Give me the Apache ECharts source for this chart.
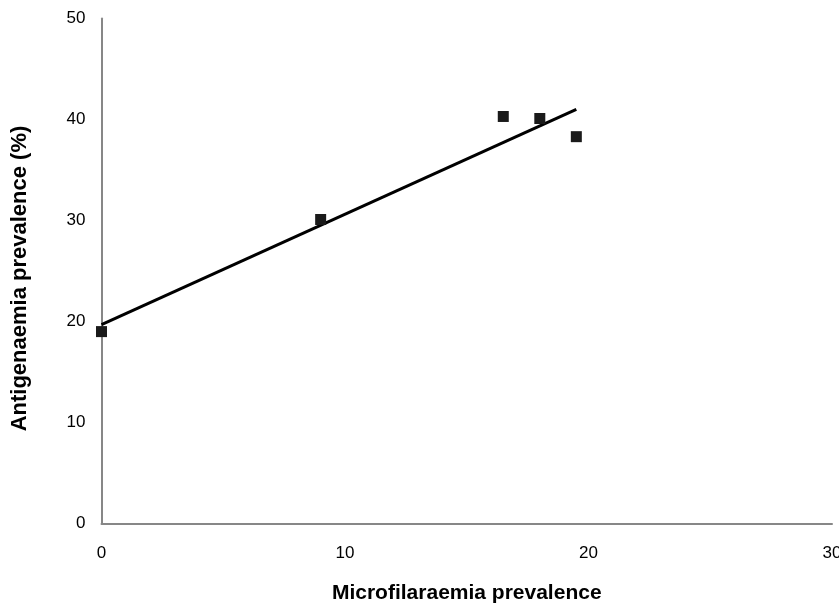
<!DOCTYPE html>
<html>
<head>
<meta charset="utf-8">
<script src="https://cdn.jsdelivr.net/npm/echarts@6/dist/echarts.min.js"></script>
<style>
  html, body { margin: 0; padding: 0; background: #fff; }
  #chart { width: 839px; height: 607px; }
</style>
</head>
<body>
<div id="chart"></div>
<script>
// Prevalence by community (%)
const microfilaraemia = [0, 9, 16.5, 18, 19.5];
const antigenaemia = [19.0, 30.1, 40.3, 40.1, 38.3];

// Linear trend line endpoints
const trendX = [0, 19.5];
const trendY = [19.7, 41.0];

const xTicks = [0, 10, 20, 30];
const yTicks = [0, 10, 20, 30, 40, 50];

const xTitle = 'Microfilaraemia prevalence';
const yTitle = 'Antigenaemia prevalence (%)';

const font = '"Liberation Sans", Arial, sans-serif';

const points = microfilaraemia.map((x, i) => [x, antigenaemia[i]]);
const trend = trendX.map((x, i) => [x, trendY[i]]);

const chart = echarts.init(document.getElementById('chart'), null, { renderer: 'canvas' });
chart.setOption({
  animation: false,
  backgroundColor: '#ffffff',
  grid: { left: 101.5, right: 7, top: 18.5, bottom: 83.5, outerBoundsMode: 'none', containLabel: false },
  graphic: [
    {
      type: 'text',
      x: 20,
      y: 278.5,
      rotation: Math.PI / 2,
      style: {
        text: yTitle,
        fontFamily: font,
        fontSize: 22,
        fontWeight: 'bold',
        fill: '#000',
        align: 'center',
        verticalAlign: 'middle'
      }
    }
  ],
  xAxis: {
    type: 'value',
    min: xTicks[0],
    max: xTicks[xTicks.length - 1],
    interval: 10,
    name: xTitle,
    nameLocation: 'middle',
    nameGap: 59,
    nameTextStyle: { fontFamily: font, fontSize: 21, fontWeight: 'bold', color: '#000' },
    axisLine: { lineStyle: { color: '#878787', width: 2 } },
    axisTick: { show: false },
    splitLine: { show: false },
    axisLabel: { fontFamily: font, fontSize: 17, color: '#000', margin: 21 }
  },
  yAxis: {
    type: 'value',
    min: yTicks[0],
    max: yTicks[yTicks.length - 1],
    interval: 10,
    axisLine: { show: true, lineStyle: { color: '#878787', width: 2 } },
    axisTick: { show: false },
    splitLine: { show: false },
    axisLabel: { fontFamily: font, fontSize: 17, color: '#000', margin: 16 }
  },
  series: [
    {
      type: 'line',
      data: trend,
      symbol: 'none',
      lineStyle: { color: '#000', width: 3 },
      silent: true,
      z: 2
    },
    {
      type: 'scatter',
      data: points,
      symbol: 'rect',
      symbolSize: 11,
      itemStyle: { color: '#1a1a1a', opacity: 1 },
      z: 3
    }
  ]
});
</script>
</body>
</html>
